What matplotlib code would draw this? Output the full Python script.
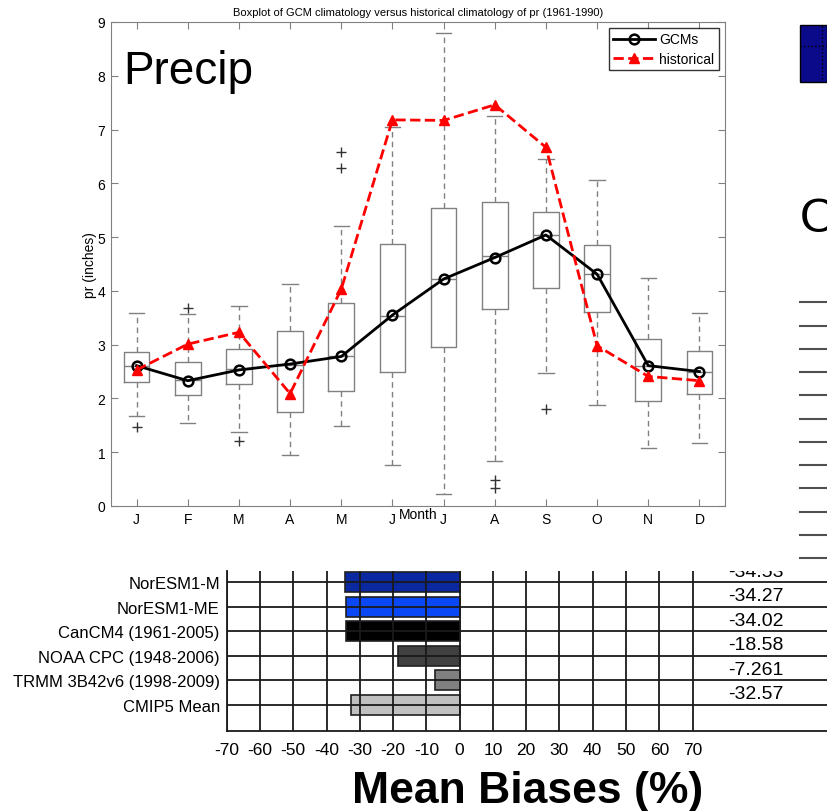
import matplotlib
matplotlib.use('Agg')
import matplotlib.pyplot as plt
from matplotlib.patches import Rectangle
from matplotlib.lines import Line2D

#----------Data----------#

months = ['J', 'F', 'M', 'A', 'M', 'J', 'J', 'A', 'S', 'O', 'N', 'D']
box_q1 = [2.30, 2.06, 2.27, 1.75, 2.13, 2.49, 2.95, 3.66, 4.05, 3.60, 1.96, 2.08]
box_med = [2.61, 2.34, 2.55, 2.62, 2.78, 3.53, 4.22, 4.64, 5.03, 4.31, 2.61, 2.50]
box_q3 = [2.86, 2.68, 2.92, 3.25, 3.77, 4.88, 5.55, 5.66, 5.46, 4.85, 3.11, 2.88]
whisk_lo = [1.67, 1.54, 1.38, 0.94, 1.49, 0.76, 0.22, 0.84, 2.47, 1.87, 1.08, 1.18]
whisk_hi = [3.59, 3.57, 3.72, 4.13, 5.21, 7.04, 8.79, 7.26, 6.45, 6.06, 4.24, 3.59]
outliers = [[1.46], [3.69], [1.21], [], [6.28, 6.58], [], [], [0.33, 0.48], [1.80], [], [], []]
gcm_mean = [2.61, 2.33, 2.53, 2.64, 2.78, 3.55, 4.22, 4.62, 5.04, 4.31, 2.61, 2.50]
historical = [2.53, 3.01, 3.23, 2.09, 4.03, 7.18, 7.17, 7.46, 6.67, 2.98, 2.41, 2.33]

models = ['NorESM1-M', 'NorESM1-ME', 'CanCM4 (1961-2005)', 'NOAA CPC (1948-2006)',
          'TRMM 3B42v6 (1998-2009)', 'CMIP5 Mean']
biases = [-34.53, -34.27, -34.02, -18.58, -7.261, -32.57]
bias_ticks = [-70, -60, -50, -40, -30, -20, -10, 0, 10, 20, 30, 40, 50, 60, 70]

bar_colors = ['#0a28a0', '#0a48f5', '#000000', '#404040', '#808080', '#c0c0c0']

#----------Figure----------#

plt.rcParams['font.family'] = ['Liberation Sans', 'DejaVu Sans']
plt.rcParams['axes.unicode_minus'] = False

W, H = 827, 812
fig = plt.figure(figsize=(W / 100, H / 100), dpi=100)

def fig_box(left, top, right, bottom):
    #pixel box -> figure fraction
    return [left / W, 1 - bottom / H, (right - left) / W, (bottom - top) / H]

#----------Top boxplot----------#

ax = fig.add_axes(fig_box(111, 23, 725, 507))
pos = list(range(1, len(months) + 1))

stats = []
for i in range(len(months)):
    stats.append(dict(q1=box_q1[i], med=box_med[i], q3=box_q3[i],
                      whislo=whisk_lo[i], whishi=whisk_hi[i], fliers=outliers[i]))

grey = '#808080'
ax.bxp(stats, positions=pos, widths=0.5, capwidths=0.3, showfliers=True,
       boxprops=dict(color=grey, lw=1),
       medianprops=dict(color=grey, lw=1),
       whiskerprops=dict(color=grey, lw=1, ls=(0, (4, 3))),
       capprops=dict(color=grey, lw=1),
       flierprops=dict(marker='+', markeredgecolor='#333333', markersize=7, ls='none'))

ax.plot(pos, gcm_mean, color='black', ls='-', lw=2, marker='o', ms=7,
        mfc='none', mec='black', mew=1.8, label='GCMs', zorder=4)
ax.plot(pos, historical, color='red', ls='--', lw=2, marker='^', ms=7,
        mfc='red', mec='red', label='historical', zorder=5)

ax.set_xlim(0.5, 12.5)
ax.set_ylim(0, 9)
ax.set_yticks(range(0, 10))
ax.set_xticks(pos)
ax.set_xticklabels(months)
ax.tick_params(direction='in', top=True, right=True, length=5, color=grey,
               labelsize=10, pad=4)
for s in ax.spines.values():
    s.set_color(grey)

ax.set_title('Boxplot of GCM climatology versus historical climatology of pr (1961-1990)',
             fontsize=8, pad=5)
ax.set_ylabel('pr (inches)', fontsize=10, va='center')
ax.yaxis.set_label_coords(-0.034, 0.5)
ax.set_xlabel('Month', fontsize=10, va='center')
ax.xaxis.set_label_coords(0.5, -0.0165)

ax.text(0.02, 0.875, 'Precip', transform=ax.transAxes, fontsize=33, va='baseline')

leg = ax.legend(loc='upper right', fontsize=10, handlelength=3.0, handletextpad=0.35,
                borderaxespad=0.45, labelspacing=0.37, borderpad=0.3, fancybox=False)
leg.get_frame().set_edgecolor('black')
leg.get_frame().set_linewidth(1)

#----------Bottom bar chart----------#

bx = fig.add_axes(fig_box(226.7, 572, 827, 732))
ypos = list(range(1, len(models) + 1))
bx.barh(ypos, biases, height=0.82, color=bar_colors, edgecolor='#202020', lw=1.2)

bx.set_xlim(-70, 110.4)
bx.set_ylim(7.07, 0.54)
bx.set_xticks(bias_ticks)
bx.set_yticks(ypos)
bx.set_yticklabels(models, fontsize=12)
bx.tick_params(axis='both', length=0)
bx.tick_params(axis='x', labelsize=12.5, pad=8)
bx.tick_params(axis='y', pad=5)
bx.set_axisbelow(False)
bx.grid(True, color='#1a1a1a', lw=1.3)
bx.spines['top'].set_visible(False)
bx.spines['right'].set_visible(False)
for side in ['left', 'bottom']:
    bx.spines[side].set_color('#1a1a1a')
    bx.spines[side].set_linewidth(1.3)

for y, v in zip(ypos, biases):
    bx.text(80.6, y - 0.45, f'{v:.4g}', fontsize=14, va='center', ha='left', clip_on=True)

fig.text(527.5 / W, 1 - 803 / H, 'Mean Biases (%)', fontsize=32, fontweight='bold',
         ha='center', va='baseline')

#----------Fragments of the neighbouring slide on the right edge----------#

fig.add_artist(Rectangle((800 / W, 1 - 83 / H), 27 / W, 57 / H, transform=fig.transFigure,
                         facecolor='#0a0a8a', edgecolor='black', lw=1))
fig.add_artist(Line2D([822 / W, 822 / W], [1 - 27 / H, 1 - 83 / H], transform=fig.transFigure,
                      color='black', ls=':', lw=1))
fig.add_artist(Line2D([800 / W, 1], [1 - 47 / H, 1 - 47 / H], transform=fig.transFigure,
                      color='black', ls=':', lw=1))
fig.text(800 / W, 1 - 232 / H, 'O', fontsize=35, va='baseline', ha='left')
for i in range(12):
    yy = 1 - (303.3 + i * 23.25) / H
    fig.add_artist(Line2D([800 / W, 1], [yy, yy], transform=fig.transFigure,
                          color='#505050', lw=1.5))

fig.savefig('out.png', dpi=100)
